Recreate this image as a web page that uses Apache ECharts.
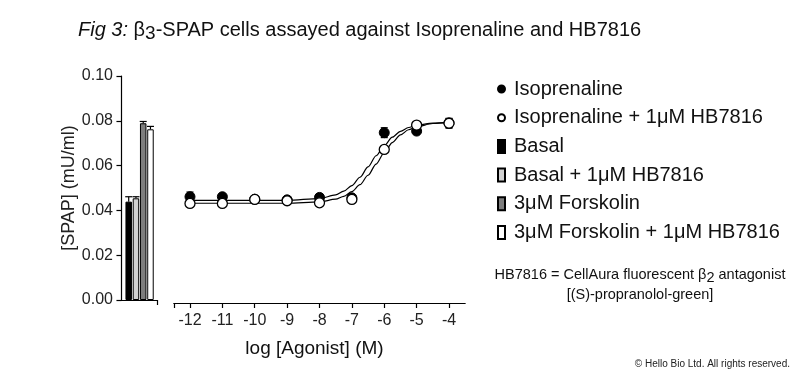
<!DOCTYPE html>
<html>
<head>
<meta charset="utf-8">
<script src="https://cdn.jsdelivr.net/npm/echarts@6/dist/echarts.min.js"></script>
<style>
html,body{margin:0;padding:0;background:#fff;}
#chart{width:800px;height:375px;}
</style>
</head>
<body>
<div id="chart"></div>
<script>
// ---- Data ----
const barNames = ['Basal', 'Basal + 1μM HB7816', '3μM Forskolin', '3μM Forskolin + 1μM HB7816'];
const barPositions = [1, 2, 3, 4];
const barValues = [0.0439, 0.0454, 0.0789, 0.0762];
const barErrors = [0.0022, 0.0007, 0.0008, 0.0013];
const barColors = ['#000000', '#d2d2d2', '#7d7d7d', '#ffffff'];

const pointNames = ['Isoprenaline', 'Isoprenaline + 1μM HB7816'];
const logAgonist = [-12, -11, -10, -9, -8, -7, -6, -5, -4];
const isoValues = [0.0461, 0.0461, 0.0450, 0.0447, 0.0458, 0.0456, 0.0747, 0.0754, 0.0790];
const isoErrors = [0.0021, 0.0008, 0.0008, 0.0008, 0.0008, 0.0008, 0.0022, 0.0008, 0.0020];
const isoHbValues = [0.0431, 0.0431, 0.0449, 0.0443, 0.0434, 0.0449, 0.0672, 0.0781, 0.0789];
const isoHbErrors = [0.0006, 0.0006, 0.0006, 0.0006, 0.0006, 0.0006, 0.0006, 0.0008, 0.0022];

const fitX = [-12, -9, -8, -7.5, -7.25, -7, -6.75, -6.5, -6.25, -6, -5.75, -5.5, -5.25, -5, -4.5, -4];
const isoFit = [0.0445, 0.0445, 0.0453, 0.0469, 0.0486, 0.0511, 0.0548, 0.0594, 0.0644, 0.0690, 0.0727, 0.0753, 0.0770, 0.0781, 0.0790, 0.0793];
const isoHbFit = [0.0432, 0.0432, 0.0438, 0.0450, 0.0463, 0.0484, 0.0515, 0.0557, 0.0607, 0.0658, 0.0703, 0.0737, 0.0760, 0.0774, 0.0788, 0.0793];

const yTicksMax = 0.10;
const xTickValues = [-12, -11, -10, -9, -8, -7, -6, -5, -4];

// ---- Build options ----
const zip = (a, b) => a.map((v, i) => [v, b[i]]);
const zip3 = (a, b, c) => a.map((v, i) => [v, b[i], c[i]]);

function errRender(bothWays) {
  return function (params, api) {
    const x = api.value(0), y = api.value(1), e = api.value(2);
    const top = api.coord([x, y + e]);
    const bot = bothWays ? api.coord([x, y - e]) : api.coord([x, y]);
    const hw = 3.5;
    const style = { stroke: '#000', lineWidth: 1.2 };
    const children = [
      { type: 'line', shape: { x1: top[0], y1: top[1], x2: bot[0], y2: bot[1] }, style },
      { type: 'line', shape: { x1: top[0] - hw, y1: top[1], x2: top[0] + hw, y2: top[1] }, style }
    ];
    if (bothWays) children.push({ type: 'line', shape: { x1: bot[0] - hw, y1: bot[1], x2: bot[0] + hw, y2: bot[1] }, style });
    return { type: 'group', children };
  };
}

const FONT = 'Liberation Sans, Arial, sans-serif';

const series = [];
series.push({
  type: 'line', xAxisIndex: 1, yAxisIndex: 1, data: zip(fitX, isoFit),
  smooth: 0.3, smoothMonotone: 'x', showSymbol: false, silent: true,
  lineStyle: { color: '#000', width: 1.2 }, z: 2
});
series.push({
  type: 'line', xAxisIndex: 1, yAxisIndex: 1, data: zip(fitX, isoHbFit),
  smooth: 0.3, smoothMonotone: 'x', showSymbol: false, silent: true,
  lineStyle: { color: '#000', width: 1.2 }, z: 2
});
series.push({ type: 'custom', xAxisIndex: 1, yAxisIndex: 1, data: zip3(logAgonist, isoValues, isoErrors), renderItem: errRender(true), z: 3, silent: true });
series.push({ type: 'custom', xAxisIndex: 1, yAxisIndex: 1, data: zip3(logAgonist, isoHbValues, isoHbErrors), renderItem: errRender(true), z: 3, silent: true });
series.push({
  name: pointNames[0], type: 'scatter', xAxisIndex: 1, yAxisIndex: 1,
  data: zip(logAgonist, isoValues), symbol: 'circle', symbolSize: 10,
  itemStyle: { color: '#000', borderColor: '#000', borderWidth: 1, opacity: 1 }, z: 4
});
series.push({
  name: pointNames[1], type: 'scatter', xAxisIndex: 1, yAxisIndex: 1,
  data: zip(logAgonist, isoHbValues), symbol: 'circle', symbolSize: 10,
  itemStyle: { color: '#fff', borderColor: '#000', borderWidth: 1.3, opacity: 1 }, z: 5
});
barNames.forEach((n, i) => {
  series.push({
    name: n, type: 'bar', xAxisIndex: 0, yAxisIndex: 0,
    data: [[barPositions[i], barValues[i]]],
    barWidth: 6.5, barGap: '-100%',
    itemStyle: { color: barColors[i], borderColor: '#000', borderWidth: 1 }, z: 2
  });
});
series.push({
  type: 'custom', xAxisIndex: 0, yAxisIndex: 0,
  data: zip3(barPositions, barValues, barErrors), renderItem: errRender(false), z: 3, silent: true
});

const legendIcons = ['circle', 'circle', 'rect', 'rect', 'rect', 'rect'];
const legendNames = pointNames.concat(barNames);

const option = {
  backgroundColor: '#ffffff',
  animation: false,
  textStyle: { fontFamily: FONT },
  title: [
    {
      text: '{i|Fig 3:} β{sub|3}-SPAP cells assayed against Isoprenaline and HB7816',
      left: 73, top: 12,
      textStyle: {
        fontFamily: FONT, fontSize: 20, fontWeight: 'normal', color: '#111',
        rich: {
          i: { fontFamily: FONT, fontSize: 20, fontStyle: 'italic', color: '#111' },
          sub: { fontFamily: FONT, fontSize: 19, color: '#111', padding: [7, 0, 0, 0] }
        }
      }
    },
    {
      text: 'HB7816 = CellAura fluorescent β{sub|2} antagonist\n[(S)-propranolol-green]',
      left: 635, top: 260, textAlign: 'center',
      textStyle: {
        fontFamily: FONT, fontSize: 14.5, fontWeight: 'normal', color: '#111', lineHeight: 20, align: 'center',
        rich: { sub: { fontFamily: FONT, fontSize: 14.5, color: '#111', padding: [5, 0, 0, 0] } }
      }
    },
    {
      text: '© Hello Bio Ltd. All rights reserved.',
      right: 5, top: 354,
      textStyle: { fontFamily: FONT, fontSize: 10, fontWeight: 'normal', color: '#222' }
    }
  ],
  legend: {
    orient: 'vertical', left: 492, top: 74,
    itemWidth: 7, itemHeight: 13, itemGap: 8.7,
    data: legendNames.map((n, i) => ({ name: n, icon: legendIcons[i] })),
    textStyle: { fontFamily: FONT, fontSize: 20, color: '#111', lineHeight: 20, padding: [0, 0, 0, 4] },
    selectedMode: false
  },
  grid: [
    { left: 120, top: 76, width: 37, height: 224, containLabel: false },
    { left: 173.8, top: 76, width: 291.4, height: 224, containLabel: false }
  ],
  xAxis: [
    {
      gridIndex: 0, type: 'value', min: -0.2, max: 4.9,
      axisLine: { show: true, onZero: false, lineStyle: { color: '#000', width: 1.2 } },
      axisTick: { show: true, customValues: [4.9], length: 5, lineStyle: { color: '#000', width: 1.2 } },
      axisLabel: { show: false }, splitLine: { show: false }
    },
    {
      gridIndex: 1, type: 'value', min: -12.5, max: -3.5, offset: 3,
      name: 'log [Agonist] (M)', nameLocation: 'middle', nameGap: 36,
      nameTextStyle: { fontFamily: FONT, fontSize: 19, color: '#111', padding: [0, 10, 0, 0] },
      axisLine: { show: true, onZero: false, lineStyle: { color: '#000', width: 1.2 } },
      axisTick: { show: true, customValues: [-12.5].concat(xTickValues), length: 5, lineStyle: { color: '#000', width: 1.2 } },
      axisLabel: { show: true, customValues: xTickValues, fontFamily: FONT, fontSize: 16, color: '#222', margin: 10, formatter: v => String(v) },
      splitLine: { show: false }
    }
  ],
  yAxis: [
    {
      gridIndex: 0, type: 'value', min: 0, max: yTicksMax, interval: 0.02,
      name: '[SPAP] (mU/ml)', nameLocation: 'middle', nameGap: 41, nameRotate: 90,
      nameTextStyle: { fontFamily: FONT, fontSize: 18, color: '#222' },
      axisLine: { show: true, lineStyle: { color: '#000', width: 1.2 } },
      axisTick: { show: true, length: 5, lineStyle: { color: '#000', width: 1.2 } },
      axisLabel: { fontFamily: FONT, fontSize: 16, color: '#222', margin: 7, formatter: v => v.toFixed(2) },
      splitLine: { show: false }
    },
    {
      gridIndex: 1, type: 'value', min: 0, max: yTicksMax,
      show: false, splitLine: { show: false }
    }
  ],
  series
};

const chart = echarts.init(document.getElementById('chart'), null, { renderer: 'canvas' });
chart.setOption(option);
</script>
</body>
</html>
